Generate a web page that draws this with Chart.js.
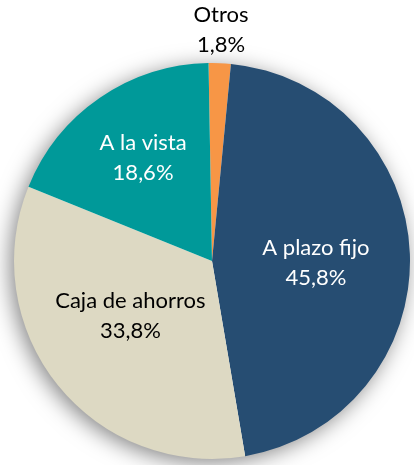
<!DOCTYPE html>
<html>
<head>
<meta charset="utf-8">
<script src="https://cdn.jsdelivr.net/npm/chart.js@4"></script>
<style>
  html, body { margin:0; padding:0; background:#fff; }
  #wrap { width:414px; height:465px; }
</style>
</head>
<body>
<div id="wrap"><canvas id="pieChart" width="414" height="465"></canvas></div>
<script>
// ===============================
// Data
// ===============================
const categories = ["Otros", "A plazo fijo", "Caja de ahorros", "A la vista"];
const shares = [1.8, 45.8, 33.8, 18.6];
const valueLabels = ["1,8%", "45,8%", "33,8%", "18,6%"];

const sliceColors = ["#F79646", "#264D72", "#DDD9C3", "#009999"];
const textColors = ["#000", "#fff", "#000", "#fff"];
// label placement: fraction of the radius + small nudge (px)
const labelRadius = [1.17, 0.525, 0.49, 0.615];
const labelNudge = [[0,0], [0,6], [-6,-6], [0,-3]];

// ===============================
// Plugins: soft shadow behind the pie + labels
// ===============================
const pieShadow = {
    id: "pieShadow",
    beforeDatasetsDraw(chart){
        const arc = chart.getDatasetMeta(0).data[0];
        if(!arc) return;
        const ctx = chart.ctx;
        ctx.save();
        ctx.shadowColor = "rgba(0,0,0,0.5)";
        ctx.shadowBlur = 22;
        ctx.shadowOffsetX = -4;
        ctx.shadowOffsetY = 4;
        ctx.fillStyle = "#fff";
        ctx.beginPath();
        ctx.arc(arc.x, arc.y, arc.outerRadius - 1, 0, Math.PI*2);
        ctx.fill();
        ctx.restore();
    }
};

const sliceLabels = {
    id: "sliceLabels",
    afterDatasetsDraw(chart){
        const ctx = chart.ctx;
        ctx.save();
        ctx.font = "22px Lato";
        ctx.textAlign = "center";
        ctx.textBaseline = "middle";
        chart.getDatasetMeta(0).data.forEach((arc, i)=>{
            const mid = (arc.startAngle + arc.endAngle)/2;
            const r = arc.outerRadius * labelRadius[i];
            const x = arc.x + Math.cos(mid)*r + labelNudge[i][0];
            const y = arc.y + Math.sin(mid)*r + labelNudge[i][1];
            ctx.fillStyle = textColors[i];
            ctx.fillText(categories[i], x, y - 15);
            ctx.fillText(valueLabels[i], x, y + 15);
        });
        ctx.restore();
    }
};

// ===============================
// Pie Chart
// ===============================
const ctxPie = document.getElementById("pieChart").getContext("2d");
const pieChart = new Chart(ctxPie, {
    type: "pie",
    data: {
        labels: categories,
        datasets: [{
            data: shares,
            backgroundColor: sliceColors,
            borderWidth: 0
        }]
    },
    options: {
        responsive: false,
        animation: false,
        rotation: -1,
        layout: { padding: { left:14, right:4, top:63, bottom:6 } },
        plugins: {
            legend: { display:false },
            tooltip: { enabled:false }
        }
    },
    plugins: [pieShadow, sliceLabels]
});
</script>
</body>
</html>
